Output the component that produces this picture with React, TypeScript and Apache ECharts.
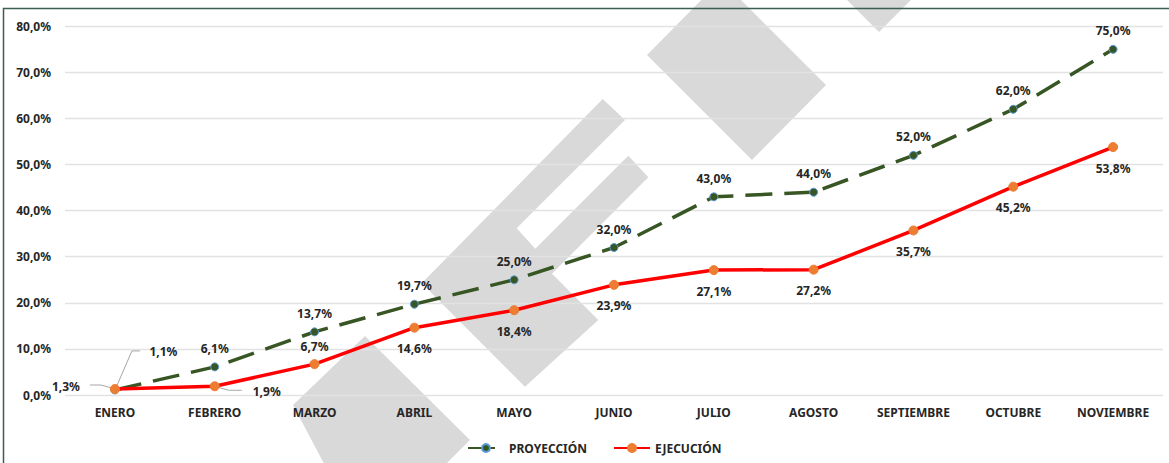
import React, { useEffect, useRef } from "react";
import * as echarts from "echarts";

const categories = ["ENERO", "FEBRERO", "MARZO", "ABRIL", "MAYO", "JUNIO", "JULIO", "AGOSTO", "SEPTIEMBRE", "OCTUBRE", "NOVIEMBRE"];
const proyeccion = [1.1, 6.1, 13.7, 19.7, 25.0, 32.0, 43.0, 44.0, 52.0, 62.0, 75.0];
const ejecucion = [1.3, 1.9, 6.7, 14.6, 18.4, 23.9, 27.1, 27.2, 35.7, 45.2, 53.8];
const yMin = 0;
const yMax = 80;
const yInterval = 10;

const FONT = '"Noto Sans", "Open Sans", sans-serif';
const TXT = "#262626";
const fmt = (v: number) => v.toFixed(1).replace(".", ",") + "%";

const WM = "#d9d9d9";
const watermark = [
  [[647, 55], [752, 160], [826, 85], [721, -20]],
  [[879, 32], [840, -7], [879, -46], [918, -7]],
  [[365, 336], [470, 440], [435, 475], [330, 475], [293, 405]],
  [[602.7, 99], [625, 120], [516.7, 228.3], [535.3, 248.7], [628.3, 155.7], [648.3, 177.3], [552, 273.7], [598.3, 320], [525, 386.7], [421.7, 283.3]],
];

export default function App() {
  const ref = useRef<HTMLDivElement>(null);
  useEffect(() => {
    if (!ref.current) return;
    const chart = echarts.init(ref.current, null, { renderer: "svg" });
    const baseGraphic: any[] = [
      ...watermark.map((pts, i) => ({
        id: "wm" + i,
        type: "polygon",
        z: -10,
        silent: true,
        shape: { points: pts },
        style: { fill: WM },
      })),
      {
        id: "border",
        type: "rect",
        z: 100,
        silent: true,
        shape: { x: 3.5, y: 8.5, width: 1300, height: 600 },
        style: { fill: "none", stroke: "#3b5e54", lineWidth: 1.5 },
      },
    ];
    const labelBase = {
      show: true,
      fontFamily: FONT,
      fontSize: 12,
      fontWeight: "bold" as const,
      color: TXT,
      formatter: (p: any) => fmt(p.value),
    };
    chart.setOption({
      animation: false,
      backgroundColor: "#ffffff",
      grid: { left: 65, right: 6, top: 26.3, bottom: 68, containLabel: false },
      legend: {
        left: 462,
        top: 437,
        itemWidth: 36,
        itemHeight: 10,
        itemGap: 26,
        textStyle: { fontFamily: FONT, fontSize: 12, fontWeight: "bold", color: TXT },
        data: ["PROYECCIÓN", "EJECUCIÓN"],
      },
      xAxis: {
        type: "category",
        data: categories,
        boundaryGap: true,
        axisLine: { show: false },
        axisTick: { show: false },
        axisLabel: { margin: 11, fontFamily: FONT, fontSize: 12, fontWeight: "bold", color: TXT },
      },
      yAxis: {
        type: "value",
        min: yMin,
        max: yMax,
        interval: yInterval,
        axisLine: { show: false },
        axisTick: { show: false },
        splitLine: { lineStyle: { color: "#e2e2e2", width: 1.3 } },
        axisLabel: {
          margin: 14,
          fontFamily: FONT,
          fontSize: 12,
          fontWeight: "bold",
          color: TXT,
          formatter: (v: number) => fmt(v),
        },
      },
      graphic: baseGraphic,
      series: [
        {
          name: "PROYECCIÓN",
          type: "line",
          z: 3,
          data: proyeccion.map((v, i) =>
            i === 0 ? { value: v, label: { position: "right", offset: [22, -38] } } : v
          ),
          symbol: "circle",
          symbolSize: 8,
          itemStyle: { color: "#375623", borderColor: "#5b9bd5", borderWidth: 1 },
          lineStyle: { color: "#375623", width: 3.5, type: [27, 12], cap: "butt" },
          label: { ...labelBase, position: "top", distance: 8 },
        },
        {
          name: "EJECUCIÓN",
          type: "line",
          z: 4,
          data: ejecucion.map((v, i) => {
            if (i === 0) return { value: v, label: { position: "left", offset: [-20, -3] } };
            if (i === 1) return { value: v, label: { position: "right", offset: [23, 5] } };
            if (i === 2) return { value: v, label: { position: "top", distance: 7 } };
            return v;
          }),
          symbol: "circle",
          symbolSize: 9,
          itemStyle: { color: "#ed7d31", borderColor: "#ed7d31", borderWidth: 1 },
          lineStyle: { color: "#ff0000", width: 3.5 },
          label: { ...labelBase, position: "bottom", distance: 10 },
        },
      ],
    });

    const p0 = chart.convertToPixel({ seriesIndex: 0 }, [0, proyeccion[0]]) as number[];
    const e0 = chart.convertToPixel({ seriesIndex: 1 }, [0, ejecucion[0]]) as number[];
    const e1 = chart.convertToPixel({ seriesIndex: 1 }, [1, ejecucion[1]]) as number[];
    const leader = { stroke: "#a6a6a6", lineWidth: 1, fill: "none" };
    chart.setOption({
      graphic: [
        ...baseGraphic,
        {
          id: "ld0",
          type: "polyline",
          z: 2,
          silent: true,
          shape: { points: [[p0[0] + 1, p0[1] - 2], [p0[0] + 17, p0[1] - 39], [p0[0] + 25, p0[1] - 39]] },
          style: leader,
        },
        {
          id: "ld1",
          type: "polyline",
          z: 2,
          silent: true,
          shape: { points: [[e0[0] - 3, e0[1] - 1], [e0[0] - 14, e0[1] - 4], [e0[0] - 25, e0[1] - 4]] },
          style: leader,
        },
        {
          id: "ld2",
          type: "polyline",
          z: 2,
          silent: true,
          shape: { points: [[e1[0] + 3, e1[1] + 1], [e1[0] + 14, e1[1] + 4], [e1[0] + 27, e1[1] + 4]] },
          style: leader,
        },
      ],
    });
    return () => chart.dispose();
  }, []);
  return (
    <div
      ref={ref}
      style={{ position: "fixed", left: 0, top: 0, width: 1169, height: 463, background: "#fff" }}
    />
  );
}
